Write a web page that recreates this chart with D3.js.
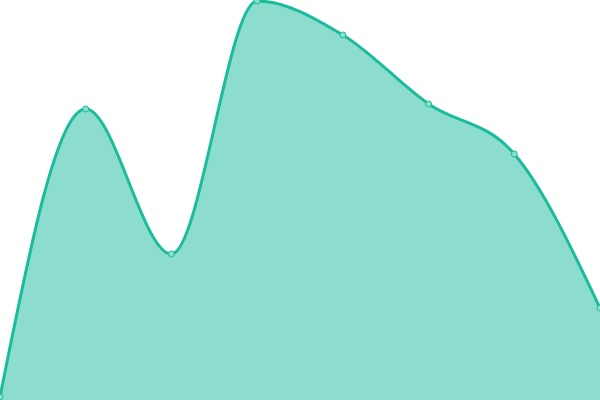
<!DOCTYPE html>
<html>
<head>
<meta charset="utf-8">
<script src="https://cdn.jsdelivr.net/npm/d3@7"></script>
<style>
  html, body { margin: 0; padding: 0; background: #fff; }
  svg { display: block; }
</style>
</head>
<body>
<div id="chart"></div>
<script>
const categories = ["A", "B", "C", "D", "E", "F", "G", "H"];
const values = [3, 291, 146, 399, 365, 296, 246, 92];

const width = 600;
const height = 400;

const xScale = d3.scalePoint().domain(categories).range([0, width]);
const yScale = d3.scaleLinear().domain([0, 400]).range([height, 0]);

const svg = d3
  .select("#chart")
  .append("svg")
  .attr("width", width)
  .attr("height", height);

const points = categories.map((c, i) => ({ cat: c, val: values[i] }));

const area = d3
  .area()
  .x((d) => xScale(d.cat))
  .y0(yScale(0))
  .y1((d) => yScale(d.val))
  .curve(d3.curveMonotoneX);

const line = d3
  .line()
  .x((d) => xScale(d.cat))
  .y((d) => yScale(d.val))
  .curve(d3.curveMonotoneX);

svg
  .append("path")
  .datum(points)
  .attr("d", area)
  .attr("fill", "#1abc9c")
  .attr("fill-opacity", 0.5);

svg
  .append("path")
  .datum(points)
  .attr("d", line)
  .attr("fill", "none")
  .attr("stroke", "#1abc9c")
  .attr("stroke-width", 3);

svg
  .selectAll("circle")
  .data(points)
  .enter()
  .append("circle")
  .attr("cx", (d) => xScale(d.cat))
  .attr("cy", (d) => yScale(d.val))
  .attr("r", 3)
  .attr("fill", "#8ae0cf")
  .attr("stroke", "#1abc9c")
  .attr("stroke-width", 1);
</script>
</body>
</html>
